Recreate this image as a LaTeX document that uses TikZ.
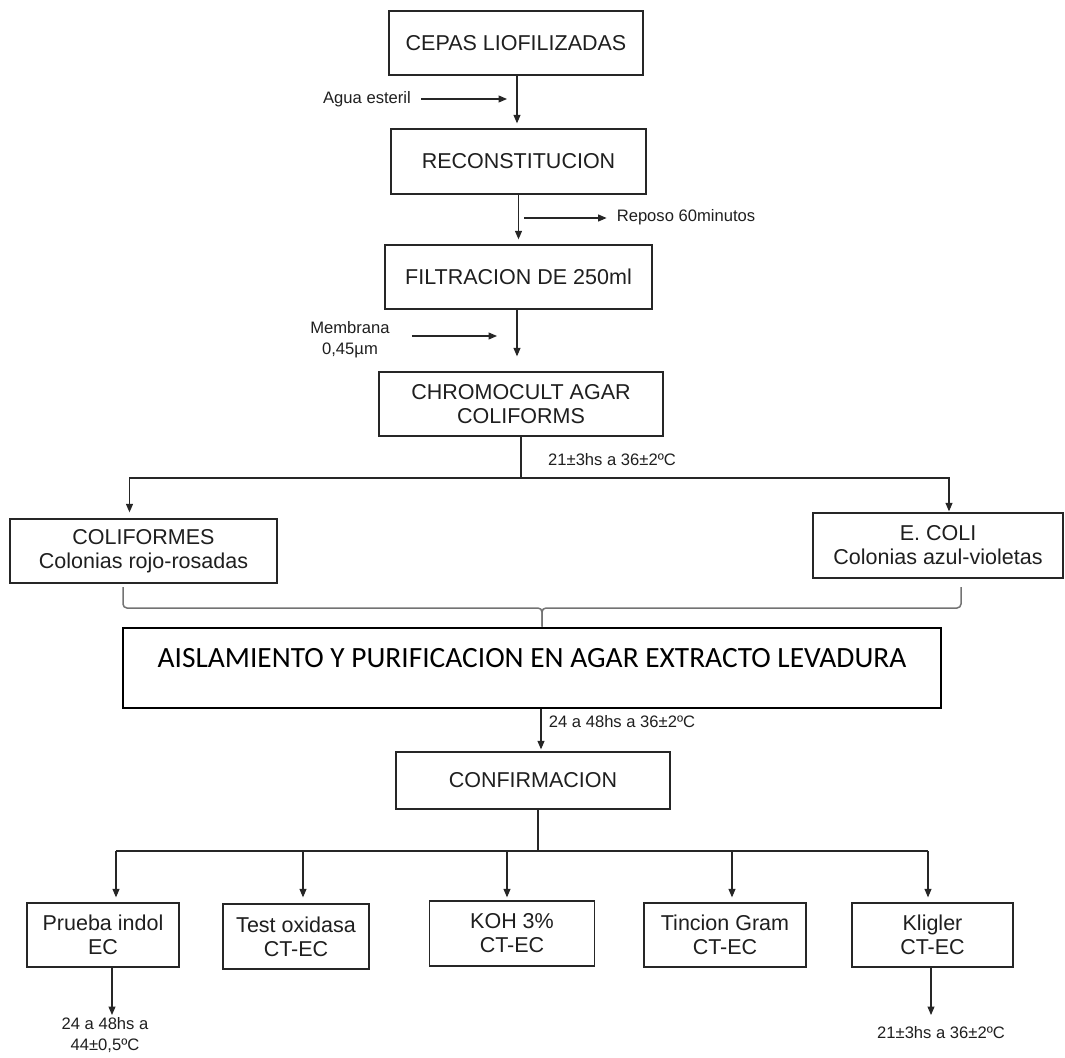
\documentclass[tikz,border=0pt]{standalone}
\usepackage{fontspec}
\setmainfont{Liberation Sans}
\newfontfamily\calib{Carlito}
\usetikzlibrary{arrows.meta}
\begin{document}
\begin{tikzpicture}[x=1pt,y=-1pt,
  box/.style={draw=black!85, line width=1.3pt, fill=white, text=black!88,
    font=\fontsize{21.5}{24}\selectfont, align=center, inner sep=0pt},
  small/.style={text=black!88, font=\fontsize{16.6}{21}\selectfont, align=center, inner sep=0pt},
  arr/.style={draw=black!85, line width=1.1pt, -{Triangle[length=8.5pt,width=7pt]}},
  ln/.style={draw=black!85, line width=1.1pt},
  bracestyle/.style={draw=black!55, line width=1.5pt, rounded corners=4pt},
]
\useasboundingbox (0,0) rectangle (1065,1057);

% main column boxes
\node[box, minimum width=254pt, minimum height=64pt] (cepas) at (516,43) {CEPAS LIOFILIZADAS};
\node[box, minimum width=255pt, minimum height=65pt] (recon) at (518.5,161.5) {RECONSTITUCION};
\node[box, minimum width=267pt, minimum height=64pt] (filt) at (518.5,277) {FILTRACION DE 250ml};
\node[box, minimum width=284pt, minimum height=64pt] (chromo) at (521,404) {CHROMOCULT AGAR\\COLIFORMS};

\node[box, minimum width=267pt, minimum height=64pt] (colif) at (143.5,551) {COLIFORMES\\Colonias rojo-rosadas};
\node[box, minimum width=250pt, minimum height=65pt] (ecoli) at (938,545.5) {E. COLI\\Colonias azul-violetas};

\node[draw=black, line width=2.8pt, fill=white, minimum width=818pt, minimum height=80pt, inner sep=0pt,
  font=\calib\fontsize{29.4}{34}\selectfont, text height=20pt, text depth=21.6pt] (big) at (532,668)
  {AISLAMIENTO Y PURIFICACION EN AGAR EXTRACTO LEVADURA};

\node[box, minimum width=274pt, minimum height=57pt] (confirm) at (533,780.5) {CONFIRMACION};

\node[box, minimum width=152pt, minimum height=64pt] (prueba) at (103,935) {Prueba indol\\EC};
\node[box, minimum width=146pt, minimum height=65pt] (test) at (296,936.5) {Test oxidasa\\CT-EC};
\node[box, minimum width=165pt, minimum height=65pt] (koh) at (512,933.5) {KOH 3\%\\CT-EC};
\node[box, minimum width=162pt, minimum height=64pt] (tincion) at (725,935) {Tincion Gram\\CT-EC};
\node[box, minimum width=161pt, minimum height=64pt] (kligler) at (932.5,935) {Kligler\\CT-EC};

% side labels
\node[small] (agua) at (367,99) {Agua esteril};
\node[small] (reposo) at (686,217) {Reposo 60minutos};
\node[small] (memb) at (350,340) {Membrana\\0,45µm};
\node[small] (t1) at (612,460) {21±3hs a 36±2ºC};
\node[small] (t2) at (622,722) {24 a 48hs a 36±2ºC};
\node[small] (t3) at (105,1035.5) {24 a 48hs a\\44±0,5ºC};
\node[small] (t4) at (941,1033) {21±3hs a 36±2ºC};

% main flow
\draw[arr, shorten >=5pt] ([xshift=1pt]cepas.south) -- ([xshift=1pt]cepas.south |- recon.north);
\coordinate (a1) at (507,99);
\draw[arr] ([xshift=10pt]agua.east) -- (a1);

\draw[arr, shorten >=5pt] (recon.south) -- (recon.south |- filt.north);
\coordinate (r1) at (524,218);
\draw[arr, shorten >=10pt] (r1) -- (reposo.west |- r1);

\draw[arr, shorten >=15pt] ([xshift=-1.5pt]filt.south) -- ([xshift=-1.5pt]filt.south |- chromo.north);
\coordinate (m1) at (497,336);
\draw[arr, shorten <=22pt] (memb.east |- m1) -- (m1);

% branch to coliformes / e.coli
\coordinate (jc) at (521,478);
\draw[ln] (chromo.south) -- (jc);
\draw[arr] (jc) -| ([xshift=-14pt,yshift=6pt]colif.north);
\draw[arr] (jc) -| ([xshift=11pt,yshift=1pt]ecoli.north);

% brace
\coordinate (bm) at (542,608);
\draw[bracestyle] (123,587) -- (123,608) -- (bm) -- (bm |- big.north);
\draw[bracestyle] (961,587) -- (961,608) -- (bm) -- (bm |- big.north);

% to confirmation
\draw[arr, shorten >=2pt] ([xshift=9pt]big.south) -- ([xshift=9pt]big.south |- confirm.north);

% confirmation tree
\coordinate (jb) at (538,851);
\draw[ln] ([xshift=5pt]confirm.south) -- (jb);
\coordinate (c1) at ([xshift=13pt,yshift=5pt]prueba.north);
\coordinate (c2) at ([xshift=7pt,yshift=6pt]test.north);
\coordinate (c3) at ([xshift=-5pt,yshift=3pt]koh.north);
\coordinate (c4) at ([xshift=7pt,yshift=5pt]tincion.north);
\coordinate (c5) at ([xshift=-4.5pt,yshift=5pt]kligler.north);
\draw[ln] (c1 |- jb) -- (c5 |- jb);
\draw[arr] (c1 |- jb) -- (c1);
\draw[arr] (c2 |- jb) -- (c2);
\draw[arr] (c3 |- jb) -- (c3);
\draw[arr] (c4 |- jb) -- (c4);
\draw[arr] (c5 |- jb) -- (c5);

% bottom arrows
\coordinate (pe) at (112,1015);
\draw[arr] ([xshift=9pt]prueba.south) -- (pe);
\coordinate (ke) at (931,1015);
\draw[arr] ([xshift=-1.5pt]kligler.south) -- (ke);
\end{tikzpicture}
\end{document}
